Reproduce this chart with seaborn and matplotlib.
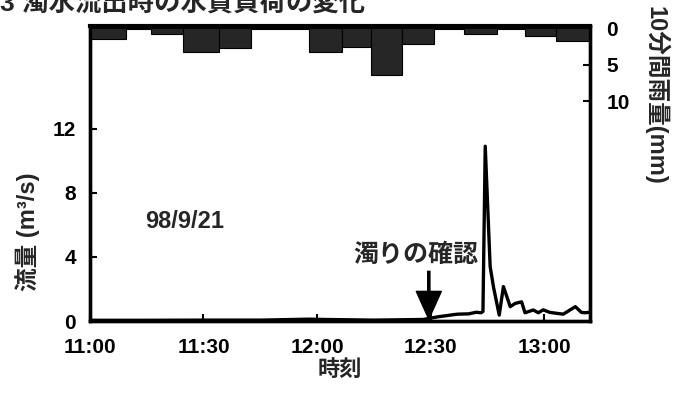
import numpy as np
import pandas as pd
import seaborn as sns
import matplotlib.pyplot as plt

# flow data, minutes after 11:00
flow_t = [0, 15, 30, 45, 58, 62, 75, 88, 92, 97, 100, 102, 103.3, 103.8, 104.4, 105.7,
          106.6, 108.1, 109.2, 111, 112.3, 114, 114.9, 117.1, 118.4, 119.7, 121.5,
          125, 128.2, 129.8, 130.7, 132]
flow_q = [0.05, 0.05, 0.06, 0.06, 0.12, 0.1, 0.06, 0.1, 0.27, 0.43, 0.45, 0.55, 0.52,
          0.6, 10.9, 3.4, 2.1, 0.37, 2.15, 0.9, 1.1, 1.2, 0.52, 0.69, 0.52, 0.7, 0.54,
          0.43, 0.9, 0.54, 0.52, 0.55]

# 10-min rainfall bars (edges as drawn)
rain_edges = [0, 9.6, 16.2, 24.6, 34.2, 42.5, 50.5, 57.9, 66.6, 74.2, 82.4, 90.8,
              98.7, 107.4, 115, 123.2, 132]
rain_mm = [1.5, 0.15, 0.8, 3.2, 2.7, 0.1, 0.1, 3.3, 2.6, 6.4, 2.2, 0.1, 0.8, 0.1, 1.1, 1.8]

xticks = [0, 30, 60, 90, 120]
xlabels = ["11:00", "11:30", "12:00", "12:30", "13:00"]

sns.set_style("ticks")
plt.rcParams['font.family'] = ['Liberation Sans', 'Noto Sans CJK JP']
plt.rcParams['font.weight'] = 'bold'

df = pd.DataFrame({'t': flow_t, 'q': flow_q})

fig = plt.figure(figsize=(6.81, 3.93), dpi=100)
ax = fig.add_axes([0.132, 0.183, 0.734, 0.751])

sns.lineplot(data=df, x='t', y='q', ax=ax, color='black', linewidth=2.4)
ax.set_xlim(0, 132)
ax.set_ylim(0, 18.4)
ax.set_yticks([0, 4, 8, 12])
ax.set_xticks(xticks)
ax.set_xticklabels(xlabels)
ax.tick_params(direction='in', length=5, width=1.5, labelsize=15, colors='black')
ax.tick_params(axis='x', pad=12)
ax.tick_params(axis='y', pad=10)
ax.set_xlabel("時刻", fontsize=16, fontweight='bold', labelpad=2)
ax.set_ylabel("")
for s in ax.spines.values():
    s.set_linewidth(2.4)
    s.set_color('black')

# rainfall on inverted right axis
ax2 = ax.twinx()
left = np.array(rain_edges[:-1])
widths = np.diff(rain_edges)
ax2.bar(left, rain_mm, width=widths, align='edge', color='#262626', edgecolor='black', linewidth=0.8)
ax2.set_ylim(40, -0.3)
ax2.set_yticks([0, 5, 10])
ax2.tick_params(direction='in', length=5, width=1.5, labelsize=15, colors='black', pad=12)
for s in ax2.spines.values():
    s.set_linewidth(2.4)
    s.set_color('black')
ax2.spines['top'].set_linewidth(3)

ax.text(0.11, 0.337, "98/9/21", transform=ax.transAxes, fontsize=17, va='center', ha='left')
ax.text(86, 4.1, "濁りの確認", fontsize=18, ha='center', va='center')
ax.annotate("", xy=(89.5, 0.12), xytext=(89.5, 3.1),
            arrowprops=dict(facecolor='black', edgecolor='black', width=1.6,
                            headwidth=18, headlength=20, shrink=0))

fig.text(28 / 681, 1 - 232 / 393, "流量 (m³/s)", rotation=90, fontsize=17,
         ha='center', va='center')
fig.text(656 / 681, 1 - 95 / 393, "10分間雨量(mm)", rotation=270, fontsize=17,
         ha='center', va='center')
fig.text(0.0, 1 - 11 / 393, "3 濁水流出時の水質負荷の変化", fontsize=19,
         ha='left', va='baseline')

fig.savefig("out.png", dpi=100)
